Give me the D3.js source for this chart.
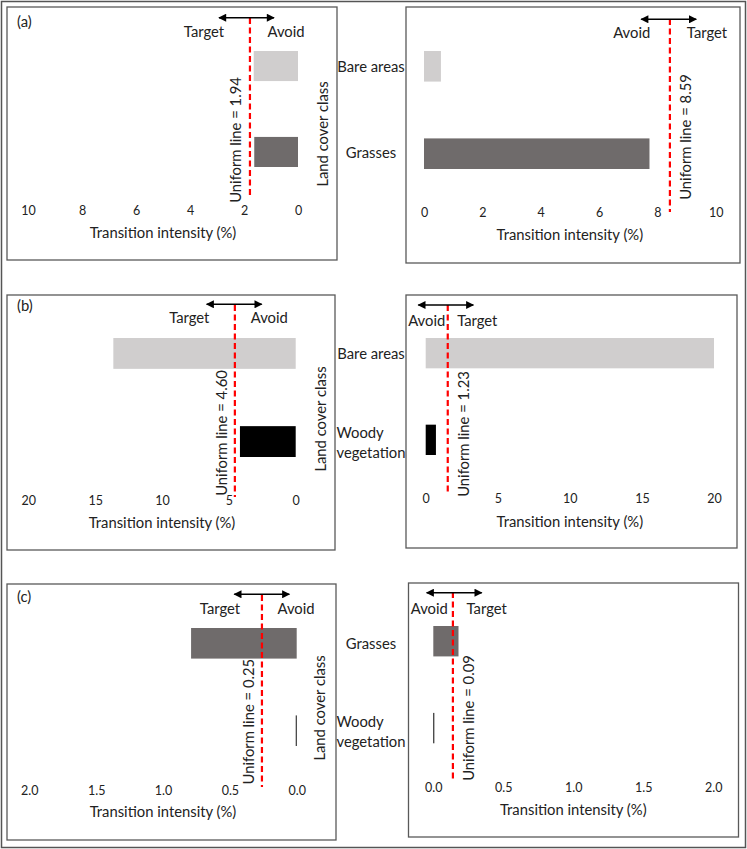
<!DOCTYPE html>
<html><head><meta charset="utf-8">
<script src="https://cdn.jsdelivr.net/npm/d3@7"></script>
<style>
body{margin:0;background:#fff}
svg{display:block}
text{font-family:Lato,"Open Sans",sans-serif;fill:#222}
</style>
</head><body>
<svg id="chart" width="747" height="849"></svg>
<script>
// ---------------- data ----------------
const categoriesA = ["Bare areas", "Grasses"];
const categoriesB = ["Bare areas", "Woody vegetation"];
const categoriesC = ["Grasses", "Woody vegetation"];
const panelLetters = ["(a)", "(b)", "(c)"];

const valuesALeft  = [1.64, 1.62];
const valuesARight = [0.58, 7.73];
const valuesBLeft  = [13.64, 4.17];
const valuesBRight = [20.0, 0.71];
const valuesCLeft  = [0.79, 0.007];
const valuesCRight = [0.18, 0.007];

// uniform intensity: printed label and drawn position
const uniformLabels = ["1.94", "8.59", "4.60", "1.23", "0.25", "0.09"];
const uniformDrawn  = [1.78, 8.43, 4.55, 1.53, 0.26, 0.14];

const domainA = [0, 10], domainB = [0, 20], domainC = [0, 2];
const ticksA = [0, 2, 4, 6, 8, 10];
const ticksB = [0, 5, 10, 15, 20];
const ticksC = [0, 0.5, 1.0, 1.5, 2.0];

const classColors = {"Bare areas": "#d0cece", "Grasses": "#6f6b6b", "Woody vegetation": "#000000"};
const axisTitle = "Transition intensity (%)";
const yTitle = "Land cover class";

// ---------------- layout ----------------
const panels = [
  {side:"L", cats:categoriesA, vals:valuesALeft, dom:domainA, ticks:ticksA, fmt:d3.format("d"), u:0,
   box:[7,7,337,260], zero:298, end:28, bands:[51,167], lineY:[18,198], arrowX:246.5, arrowY:17.7,
   targetX:204, avoidX:286, labY:37, utX:235, utY:140, tickY:215, titleY:238, letterY:27, lcX:322, lcY:134, row:0},
  {side:"R", cats:categoriesA, vals:valuesARight, dom:domainA, ticks:ticksA, fmt:d3.format("d"), u:1,
   box:[406,7,740,263], zero:424, end:715.7, bands:[51,169], lineY:[19,212], arrowX:668.7, arrowY:19.3,
   targetX:707, avoidX:631.7, labY:38, utX:685, utY:137, tickY:217, titleY:240, row:0},
  {side:"L", cats:categoriesB, vals:valuesBLeft, dom:domainB, ticks:ticksB, fmt:d3.format("d"), u:2,
   box:[7,295,335,550], zero:295.7, end:28.3, bands:[338,457], lineY:[305,497], arrowX:234.2, arrowY:304.3,
   targetX:189.3, avoidX:269.3, labY:323, utX:221, utY:433, tickY:505, titleY:528, letterY:311, lcX:320, lcY:419, row:1},
  {side:"R", cats:categoriesB, vals:valuesBRight, dom:domainB, ticks:ticksB, fmt:d3.format("d"), u:3,
   box:[406,295,737,548], zero:425.7, end:714, bands:[338,455], lineY:[305,493], arrowX:445.8, arrowY:305,
   targetX:477.3, avoidX:426.7, labY:325.7, utX:463.3, utY:434, tickY:502.7, titleY:526.7, row:1},
  {side:"L", cats:categoriesC, vals:valuesCLeft, dom:domainC, ticks:ticksC, fmt:d3.format(".1f"), u:4,
   box:[7,584,336,840], zero:296.7, end:29.3, bands:[628,746], lineY:[595,787], arrowX:261.8, arrowY:594.3,
   targetX:220, avoidX:296, labY:614, utX:248.3, utY:721.7, tickY:795, titleY:816.7, letterY:602, lcX:319.3, lcY:708, row:2},
  {side:"R", cats:categoriesC, vals:valuesCRight, dom:domainC, ticks:ticksC, fmt:d3.format(".1f"), u:5,
   box:[408.5,583,738.5,837], zero:433.3, end:713.3, bands:[626,743.3], lineY:[592,782], arrowX:454.2, arrowY:592.7,
   targetX:486.7, avoidX:429.3, labY:614, utX:468.3, utY:718, tickY:791.7, titleY:815, row:2}
];

const FS = 14.8, TICKFS = 12.5;
const svg = d3.select("#chart");

const defs = svg.append("defs");
defs.append("marker").attr("id","ah").attr("viewBox","0 0 10 10").attr("refX",9).attr("refY",5)
  .attr("markerWidth",9).attr("markerHeight",8).attr("markerUnits","userSpaceOnUse")
  .attr("orient","auto-start-reverse")
  .append("path").attr("d","M0,0 L10,5 L0,10 Z").attr("fill","#000");

// outer frame
svg.append("rect").attr("x",1.5).attr("y",1.5).attr("width",744).attr("height",846)
  .attr("fill","none").attr("stroke","#555").attr("stroke-width",1.5);

panels.forEach(p => {
  const g = svg.append("g");
  const [bx0,by0,bx1,by1] = p.box;
  g.append("rect").attr("x",bx0).attr("y",by0).attr("width",bx1-bx0).attr("height",by1-by0)
    .attr("fill","none").attr("stroke","#595959").attr("stroke-width",1.3);

  const x = d3.scaleLinear().domain(p.dom).range([p.zero, p.end]);
  const y = d3.scaleBand().domain(p.cats).range(p.bands).paddingInner(0.65).paddingOuter(0);

  // bars
  g.selectAll("rect.bar").data(p.cats.map((c,i)=>({c, v:p.vals[i]}))).join("rect")
    .attr("class","bar")
    .attr("x", d => Math.min(x(0), x(d.v)))
    .attr("width", d => Math.abs(x(d.v) - x(0)))
    .attr("y", d => y(d.c))
    .attr("height", y.bandwidth())
    .attr("fill", d => classColors[d.c]);

  // axis ticks (labels only)
  const ax = g.append("g").attr("transform", `translate(0,${p.tickY})`)
    .call(d3.axisBottom(x).tickValues(p.ticks).tickSize(0).tickFormat(p.fmt));
  ax.select(".domain").remove();
  ax.selectAll("text").attr("y",0).attr("dy",null)
    .style("font-family","Lato, 'Open Sans', sans-serif").style("font-size",TICKFS+"px").style("fill","#222");

  g.append("text").attr("x",(p.zero+p.end)/2).attr("y",p.titleY).attr("text-anchor","middle")
    .style("font-size",FS+"px").text(axisTitle);

  // uniform line
  const ux = x(uniformDrawn[p.u]);
  g.append("line").attr("x1",ux).attr("x2",ux).attr("y1",p.lineY[0]).attr("y2",p.lineY[1])
    .attr("stroke","#ff0000").attr("stroke-width",2.2).attr("stroke-dasharray","6,3.5");
  g.append("text").attr("transform",`translate(${p.utX},${p.utY}) rotate(-90)`)
    .attr("text-anchor","middle").attr("dominant-baseline","central")
    .style("font-size",FS+"px").text("Uniform line = " + uniformLabels[p.u]);

  // arrow
  g.append("line").attr("x1",p.arrowX-27.5).attr("x2",p.arrowX+27.5).attr("y1",p.arrowY).attr("y2",p.arrowY)
    .attr("stroke","#000").attr("stroke-width",1.5)
    .attr("marker-start","url(#ah)").attr("marker-end","url(#ah)");
  g.append("text").attr("x",p.targetX).attr("y",p.labY).attr("text-anchor","middle")
    .style("font-size",FS+"px").text("Target");
  g.append("text").attr("x",p.avoidX).attr("y",p.labY).attr("text-anchor","middle")
    .style("font-size",FS+"px").text("Avoid");

  if (p.side === "L") {
    g.append("text").attr("x",17).attr("y",p.letterY).style("font-size",FS+"px").text(panelLetters[p.row]);
    g.append("text").attr("transform",`translate(${p.lcX},${p.lcY}) rotate(-90)`)
      .attr("text-anchor","middle").attr("dominant-baseline","central")
      .style("font-size",FS+"px").text(yTitle);

    // category labels between the two panels
    p.cats.forEach(c => {
      const lines = c === "Woody vegetation" ? ["Woody","vegetation"] : [c];
      const cy = y(c) + y.bandwidth()/2;
      const t = svg.append("text").style("font-size",FS+"px");
      lines.forEach((ln,i) => {
        t.append("tspan").attr("y", cy + (i - (lines.length-1)/2)*20).attr("dominant-baseline","central").text(ln);
      });
      const widths = t.selectAll("tspan").nodes().map(n => n.getComputedTextLength());
      const maxW = d3.max(widths);
      if (lines.length === 1) {
        t.attr("text-anchor","middle").selectAll("tspan").attr("x",371);
      } else {
        t.selectAll("tspan").attr("x",371 - maxW/2);
      }
    });
  }
});
</script>
</body></html>
